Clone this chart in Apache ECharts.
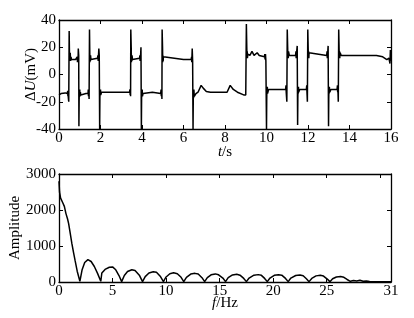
<!DOCTYPE html>
<html><head><meta charset="utf-8">
<script src="https://cdn.jsdelivr.net/npm/echarts@6/dist/echarts.min.js"></script>
<style>html,body{margin:0;padding:0;background:#fff}#c{width:414px;height:318px}</style>
</head><body><div id="c"></div>
<script>
// Top panel: voltage deviation ΔU (mV) vs time t (s)
const timeVoltage = [
[0,-15],[0.1,-14],[0.3,-13.5],[0.4,-14],[0.42,-12],[0.43,-16],[0.44,-12],[0.45,-17],[0.47,-20],[0.49,32],[0.5,20],[0.51,10],[0.52,15],[0.53,10],[0.54,16],[0.56,10],[0.58,13],[0.6,11],[0.8,11],[0.86,11],[0.88,13],[0.89,9],[0.9,13],[0.92,10],[0.93,19],[0.95,14],[0.96,-38],[0.97,-20],[0.98,-11],[0.99,-16],[1.0,-11],[1.01,-16],[1.03,-13],[1.05,-15],[1.3,-14],[1.4,-14],[1.41,-11],[1.42,-16],[1.44,-12],[1.45,-18],[1.47,33],[1.48,20],[1.49,9],[1.5,14],[1.51,10],[1.52,14],[1.54,11],[1.6,12],[1.85,12],[1.88,14],[1.89,10],[1.9,13],[1.92,19],[1.94,14],[1.96,-40],[1.97,-18],[1.98,-11],[1.99,-15],[2.0,-11],[2.01,-15],[2.05,-13],[2.5,-13],[3.4,-13],[3.42,-11],[3.43,-15],[3.44,-12],[3.45,-16],[3.46,33],[3.48,20],[3.49,9],[3.5,14],[3.51,10],[3.52,14],[3.54,11],[3.6,12],[3.88,12],[3.9,14],[3.91,10],[3.93,13],[3.95,20],[3.97,-40],[3.98,-18],[3.99,-11],[4.0,-16],[4.01,-11],[4.02,-16],[4.05,-14],[4.5,-13],[4.9,-14],[4.92,-11],[4.93,-16],[4.95,-12],[4.96,-18],[4.97,33],[4.99,20],[5.0,9],[5.01,14],[5.02,10],[5.03,13],[5.1,12],[6.0,11],[6.37,11],[6.39,13],[6.4,9],[6.42,19],[6.44,10],[6.46,-40],[6.47,-20],[6.48,-11],[6.49,-17],[6.5,-11],[6.52,-16],[6.6,-14],[6.7,-13],[6.85,-8],[6.95,-10],[7.1,-12.5],[7.3,-13],[8.1,-13],[8.25,-8],[8.4,-11],[8.6,-13],[8.9,-15],[9.0,-15],[9.03,37],[9.05,20],[9.06,12],[9.07,17],[9.08,12],[9.1,15],[9.2,14],[9.3,17],[9.4,14],[9.55,16],[9.65,14],[9.9,13],[9.92,15],[9.93,11],[9.95,15],[9.97,10],[10.0,-40],[10.01,-20],[10.02,-9],[10.03,-14],[10.04,-9],[10.05,-14],[10.1,-11],[10.5,-11],[10.92,-11],[10.94,-8],[10.95,-13],[10.98,-20],[11.0,33],[11.02,20],[11.03,12],[11.04,17],[11.05,12],[11.06,17],[11.1,14],[11.4,14],[11.42,17],[11.43,12],[11.45,16],[11.48,21],[11.5,-37],[11.51,-18],[11.52,-9],[11.53,-14],[11.54,-9],[11.55,-13],[11.6,-11],[11.92,-11],[11.94,-8],[11.95,-13],[11.97,-20],[11.99,33],[12.01,18],[12.02,12],[12.03,17],[12.04,12],[12.05,16],[12.1,15],[12.9,14],[12.92,17],[12.93,12],[12.95,16],[12.97,21],[12.99,-38],[13.0,-18],[13.01,-9],[13.02,-14],[13.03,-9],[13.05,-13],[13.1,-11],[13.4,-11],[13.42,-8],[13.43,-13],[13.44,-10],[13.46,-20],[13.48,33],[13.5,18],[13.51,12],[13.52,17],[13.53,12],[13.55,16],[13.6,14],[15.3,14],[15.6,13],[15.8,11],[15.9,12],[15.95,8],[15.97,18],[16.0,10]
];
// Bottom panel: amplitude spectrum vs frequency f (Hz)
const freqAmplitude = [
[0,2800],[0.05,2500],[0.15,2330],[0.35,2200],[0.5,2100],[0.65,1900],[0.8,1750],[0.9,1620],[1.05,1350],[1.2,1070],[1.35,830],[1.5,600],[1.7,300],[1.95,20],
[2.15,330],[2.4,540],[2.7,620],[3.0,570],[3.3,430],[3.6,240],[3.9,20],
[4.0,250],[4.3,350],[4.7,410],[5.0,420],[5.3,340],[5.6,180],[5.85,10],
[6.1,180],[6.4,290],[6.8,340],[7.1,320],[7.5,190],[7.8,10],
[8.05,150],[8.4,250],[8.8,285],[9.1,270],[9.45,160],[9.75,10],
[10.0,140],[10.35,230],[10.7,255],[11.05,230],[11.4,130],[11.65,10],
[11.9,130],[12.3,220],[12.7,240],[13.0,220],[13.35,120],[13.6,10],
[13.85,120],[14.2,200],[14.6,225],[14.9,200],[15.0,175],[15.02,200],[15.3,110],[15.55,10],
[15.8,120],[16.2,195],[16.6,215],[16.9,190],[17.25,100],[17.5,10],
[17.75,110],[18.2,190],[18.6,205],[18.9,185],[19.2,100],[19.45,10],
[19.7,110],[20.1,185],[20.5,200],[20.8,190],[21.15,100],[21.4,10],
[21.65,110],[22.1,180],[22.5,195],[22.8,175],[23.1,90],[23.35,10],
[23.6,100],[24.0,170],[24.4,185],[24.7,165],[25.05,80],[25.3,10],
[25.55,90],[25.9,140],[26.3,155],[26.6,130],[26.9,70],[27.2,20],
[27.5,40],[27.8,30],[28.1,50],[28.4,20],[28.7,30],[29.0,15],[29.5,10],[30.0,10],[30.02,40],[30.05,10],[31,5]
];
const timeTicks = {min:0, max:16, interval:2};
const voltTicks = {min:-40, max:40, interval:20};
const freqTicks = {min:0, max:31, interval:5};
const ampTicks = {min:0, max:3000, interval:1000};

const FONT = '"Liberation Serif", serif';
const lblX = {fontFamily:FONT, fontSize:15, color:'#000', margin:2, formatter:function(v){return String(v);}};
const lblY = {fontFamily:FONT, fontSize:15, color:'#000', margin:3, formatter:function(v){return String(v);}};
const tick = {show:true, inside:true, length:4, lineStyle:{color:'#000', width:1}};
const line = {show:true, onZero:false, lineStyle:{color:'#000', width:1.3}};
const rich = {i:{fontFamily:FONT, fontSize:15, fontStyle:'italic', color:'#000'}, n:{fontFamily:FONT, fontSize:15, color:'#000'}};

function xAx(grid, t, name, gap){
  return [
    {type:'value', gridIndex:grid, position:'bottom', min:t.min, max:t.max, interval:t.interval,
     axisLine:line, axisTick:tick, axisLabel:Object.assign({showMaxLabel:true}, lblX), splitLine:{show:false},
     name:name, nameLocation:'middle', nameGap:gap, nameMoveOverlap:false,
     nameTextStyle:{fontFamily:FONT, fontSize:15, rich:rich}},
    {type:'value', gridIndex:grid, position:'top', min:t.min, max:t.max, interval:t.interval,
     axisLine:line, axisTick:tick, axisLabel:{show:false}, splitLine:{show:false}}
  ];
}
function yAx(grid, t, name, gap){
  return [
    {type:'value', gridIndex:grid, position:'left', min:t.min, max:t.max, interval:t.interval,
     axisLine:line, axisTick:tick, axisLabel:lblY, splitLine:{show:false},
     name:name, nameLocation:'middle', nameGap:gap, nameRotate:90, nameMoveOverlap:false,
     nameTextStyle:{fontFamily:FONT, fontSize:15, rich:rich}},
    {type:'value', gridIndex:grid, position:'right', min:t.min, max:t.max, interval:t.interval,
     axisLine:line, axisTick:tick, axisLabel:{show:false}, splitLine:{show:false}}
  ];
}

const chart = echarts.init(document.getElementById('c'), null, {renderer:'canvas'});
chart.setOption({
  backgroundColor:'#fff',
  animation:false,
  textStyle:{fontFamily:FONT},
  grid:[
    {left:59, right:23, top:20, height:109, outerBoundsMode:'none', containLabel:false},
    {left:59, right:23, top:174, height:108, outerBoundsMode:'none', containLabel:false}
  ],
  xAxis:[].concat(xAx(0, timeTicks, '{i|t}{n|/s}', 16), xAx(1, freqTicks, '{i|f}{n|/Hz}', 14)),
  yAxis:[].concat(yAx(0, voltTicks, '{n|Δ}{i|U}{n|(mV)}', 20), yAx(1, ampTicks, '{n|Amplitude}', 36)),
  series:[
    {type:'line', xAxisIndex:0, yAxisIndex:0, data:timeVoltage, showSymbol:false, symbol:'none',
     lineStyle:{color:'#000', width:1.5}},
    {type:'line', xAxisIndex:2, yAxisIndex:2, data:freqAmplitude, showSymbol:false, symbol:'none',
     lineStyle:{color:'#000', width:1.5}}
  ]
});
</script></body></html>
